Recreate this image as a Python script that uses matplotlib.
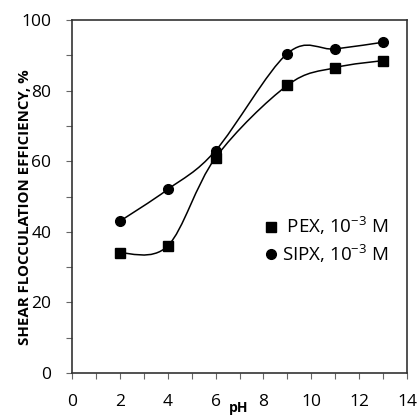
import matplotlib
matplotlib.use("Agg")
import numpy as np
import matplotlib.pyplot as plt
from matplotlib.path import Path
from matplotlib.patches import PathPatch
from matplotlib.lines import Line2D
from matplotlib.ticker import MultipleLocator

ph = [2, 4, 6, 9, 11, 13]
pex = [34, 36, 61, 81.5, 86.5, 88.5]
sipx = [43, 52, 63, 90.5, 91.8, 93.7]
pex_label = " PEX, 10$^{\\mathregular{-3}}$ M"
sipx_label = "SIPX, 10$^{\\mathregular{-3}}$ M"


def smooth_path(x, y):
    # Excel-like smoothed line: Catmull-Rom turned into cubic Bezier pieces
    p = np.column_stack([x, y]).astype(float)
    verts = [p[0]]
    codes = [Path.MOVETO]
    n = len(p)
    for i in range(n - 1):
        p0 = p[i - 1] if i > 0 else p[i]
        p1, p2 = p[i], p[i + 1]
        p3 = p[i + 2] if i + 2 < n else p[i + 1]
        verts += [p1 + (p2 - p0) / 6, p2 - (p3 - p1) / 6, p2]
        codes += [Path.CURVE4] * 3
    return Path(verts, codes)


def main():
    plt.rcParams['font.family'] = ['Open Sans', 'DejaVu Sans']
    fig = plt.figure(figsize=(4.17, 4.16), dpi=100)
    ax = fig.add_axes([72 / 417, 1 - 373 / 416, 335 / 417, 353 / 416])

    for y, mk, ms in [(pex, 's', 6.5), (sipx, 'o', 7)]:
        ax.add_patch(PathPatch(smooth_path(ph, y), fill=False, color='black', lw=1.1))
        ax.plot(ph, y, linestyle='none', marker=mk, color='black', markersize=ms)

    ax.set_xlim(0, 14)
    ax.set_ylim(0, 100)
    ax.xaxis.set_major_locator(MultipleLocator(2))
    ax.xaxis.set_minor_locator(MultipleLocator(1))
    ax.yaxis.set_major_locator(MultipleLocator(20))
    ax.yaxis.set_minor_locator(MultipleLocator(10))
    ax.tick_params(which='both', direction='out', length=4, width=0.8, color='#666666')
    ax.tick_params(axis='x', which='major', labelsize=12.5, pad=11)
    ax.tick_params(axis='y', which='major', labelsize=12.5, pad=11)
    for s in ax.spines.values():
        s.set_linewidth(1.2)
        s.set_color('#333333')

    ax.set_ylabel("SHEAR FLOCCULATION EFFICIENCY, %", fontsize=10.8, fontweight='bold')
    ax.yaxis.set_label_coords(-0.118, 0.47)
    ax.text(6.95, -10, "pH", fontsize=10, fontweight='bold', ha='center', va='center')

    handles = [Line2D([], [], linestyle='none', marker='s', color='black', markersize=6.5),
               Line2D([], [], linestyle='none', marker='o', color='black', markersize=7)]
    ax.legend(handles, [pex_label, sipx_label], frameon=False, fontsize=13.5,
              loc='center right', bbox_to_anchor=(0.995, 0.378), handlelength=0.6,
              handletextpad=0.3, labelspacing=0.25)

    fig.savefig("out.png", dpi=100)


if __name__ == "__main__":
    main()
